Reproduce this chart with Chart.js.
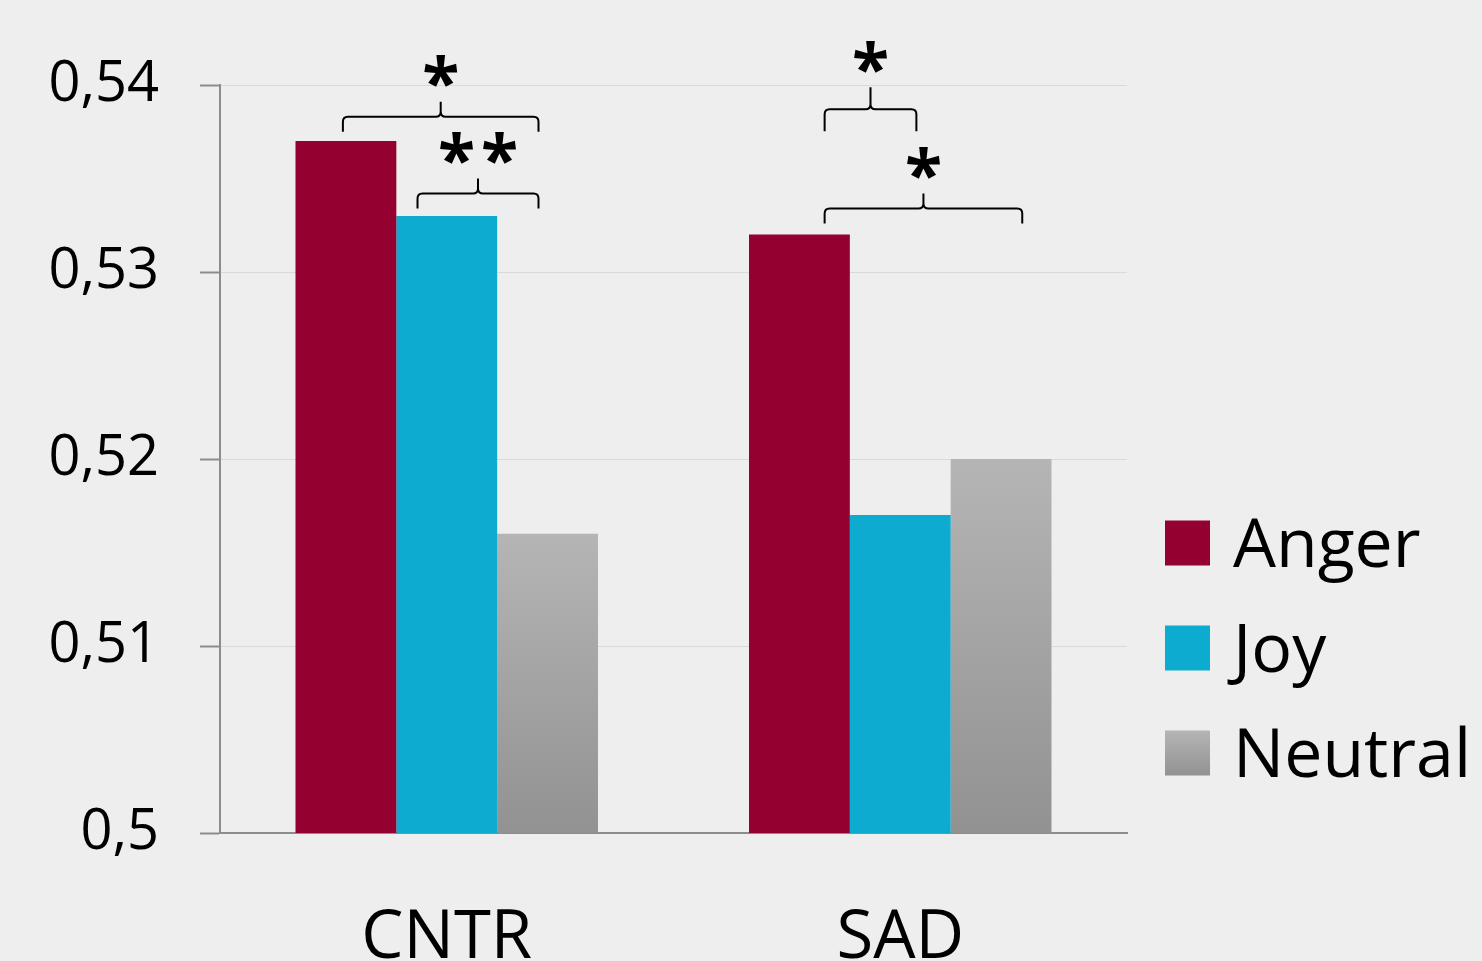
<!DOCTYPE html>
<html>
<head>
<meta charset="utf-8">
<script src="https://cdn.jsdelivr.net/npm/chart.js@4.4.1/dist/chart.umd.min.js"></script>
<style>
  html, body { margin: 0; padding: 0; background: #eeeeee; overflow: hidden; }
  #wrap { width: 1482px; height: 961px; overflow: hidden; }
</style>
</head>
<body>
<div id="wrap"><canvas id="chart" width="1482" height="1010" style="width:1482px;height:1010px"></canvas></div>
<script>
const categories = ['CNTR', 'SAD']
const seriesNames = ['Anger', 'Joy', 'Neutral']
const angerValues = [0.537, 0.532]
const joyValues = [0.533, 0.517]
const neutralValues = [0.516, 0.520]
const yTicks = [0.5, 0.51, 0.52, 0.53, 0.54]

// significance braces: group index, the two series they join, height (in y units), label
const brackets = [
  { group: 0, from: 0, to: 2, level: 0.5383, label: '*', shiftA: -0.03, shiftB: -0.09, arm: 15 },
  { group: 0, from: 1, to: 2, level: 0.5342, label: '**', shiftA: -0.29, shiftB: -0.09, arm: 15 },
  { group: 1, from: 0, to: 1, level: 0.5387, label: '*', shiftA: 0.25, shiftB: 0.16, arm: 22 },
  { group: 1, from: 0, to: 2, level: 0.5334, label: '*', shiftA: 0.25, shiftB: 0.21, arm: 15 },
]

const FONT = '"Open Sans", "Noto Sans", sans-serif'

function greyGradient(c, top, bottom) {
  const g = c.createLinearGradient(0, top, 0, bottom)
  g.addColorStop(0, '#b5b5b5')
  g.addColorStop(1, '#929292')
  return g
}

function neutralFill(ctx) {
  const chart = ctx.chart
  if (!chart.chartArea || ctx.raw === undefined) return '#a6a6a6'
  const y = chart.scales.y
  return greyGradient(chart.ctx, y.getPixelForValue(ctx.raw), y.getPixelForValue(y.min))
}

function drawBrace(c, x1, x2, y, h) {
  const xm = (x1 + x2) / 2
  const r = 5
  c.beginPath()
  c.moveTo(x1, y + h)
  c.lineTo(x1, y + r)
  c.quadraticCurveTo(x1, y, x1 + r, y)
  c.lineTo(xm - r, y)
  c.quadraticCurveTo(xm, y, xm, y - r)
  c.lineTo(xm, y - h)
  c.moveTo(xm, y - r)
  c.quadraticCurveTo(xm, y, xm + r, y)
  c.lineTo(x2 - r, y)
  c.quadraticCurveTo(x2, y, x2, y + r)
  c.lineTo(x2, y + h)
  c.strokeStyle = '#000'
  c.lineWidth = 2
  c.stroke()
}

const annotations = {
  id: 'annotations',
  afterDatasetsDraw(chart) {
    const c = chart.ctx
    const y = chart.scales.y
    c.save()
    brackets.forEach(b => {
      const barA = chart.getDatasetMeta(b.from).data[b.group]
      const barB = chart.getDatasetMeta(b.to).data[b.group]
      const x1 = barA.x + b.shiftA * barA.width
      const x2 = barB.x + b.shiftB * barB.width
      const ly = y.getPixelForValue(b.level)
      drawBrace(c, x1, x2, ly, b.arm)
      const size = 68
      c.font = 'bold ' + size + 'px ' + FONT
      c.fillStyle = '#000'
      c.textAlign = 'center'
      c.textBaseline = 'alphabetic'
      const xm = (x1 + x2) / 2
      const cy = ly - b.arm - 28
      const chars = b.label.split('')
      chars.forEach((ch, i) => {
        const cx = xm + (i - (chars.length - 1) / 2) * 43
        c.fillText(ch, cx, cy + size * 0.49)
      })
    })
    c.restore()
  }
}

const sideLegend = {
  id: 'sideLegend',
  afterDraw(chart) {
    const c = chart.ctx
    const area = chart.chartArea
    const size = 68
    const box = 45
    const x = area.right + 38
    c.save()
    c.font = size + 'px ' + FONT
    c.textAlign = 'left'
    c.textBaseline = 'alphabetic'
    chart.data.datasets.forEach((ds, i) => {
      const cy = 543 + i * 105
      const top = cy - box / 2
      c.fillStyle = i === 2 ? greyGradient(c, top, top + box) : ds.backgroundColor
      c.fillRect(x, top, box, box)
      c.fillStyle = '#000'
      c.fillText(ds.label, x + box + 23, cy + size * 0.35)
    })
    c.restore()
  }
}

new Chart(document.getElementById('chart'), {
  type: 'bar',
  data: {
    labels: categories,
    datasets: [
      { label: seriesNames[0], data: angerValues, backgroundColor: '#940030' },
      { label: seriesNames[1], data: joyValues, backgroundColor: '#0cabcf' },
      { label: seriesNames[2], data: neutralValues, backgroundColor: neutralFill },
    ]
  },
  options: {
    responsive: false,
    animation: false,
    devicePixelRatio: 1,
    layout: { padding: { top: 85, right: 355, left: 0, bottom: 0 } },
    datasets: { bar: { categoryPercentage: 0.667, barPercentage: 1, borderWidth: 0 } },
    plugins: {
      legend: { display: false },
      tooltip: { enabled: false }
    },
    scales: {
      x: {
        grid: { display: false, drawTicks: false },
        border: { color: '#8c8c8c', width: 2 },
        ticks: { color: '#000', font: { family: FONT, size: 67 }, padding: 66 },
        afterFit(scale) { scale.height = 177 }
      },
      y: {
        min: 0.5,
        max: 0.54,
        afterBuildTicks(scale) { scale.ticks = yTicks.map(v => ({ value: v })) },
        grid: { color: '#d9d9d9', lineWidth: 1, tickLength: 20, tickColor: '#8c8c8c', tickWidth: 2 },
        border: { color: '#8c8c8c', width: 2 },
        ticks: {
          color: '#000',
          font: { family: FONT, size: 56 },
          padding: 41,
          callback: v => String(Math.round(v * 100) / 100).replace('.', ',')
        },
        afterFit(scale) { scale.width = 220 }
      }
    }
  },
  plugins: [annotations, sideLegend]
})
</script>
</body>
</html>
